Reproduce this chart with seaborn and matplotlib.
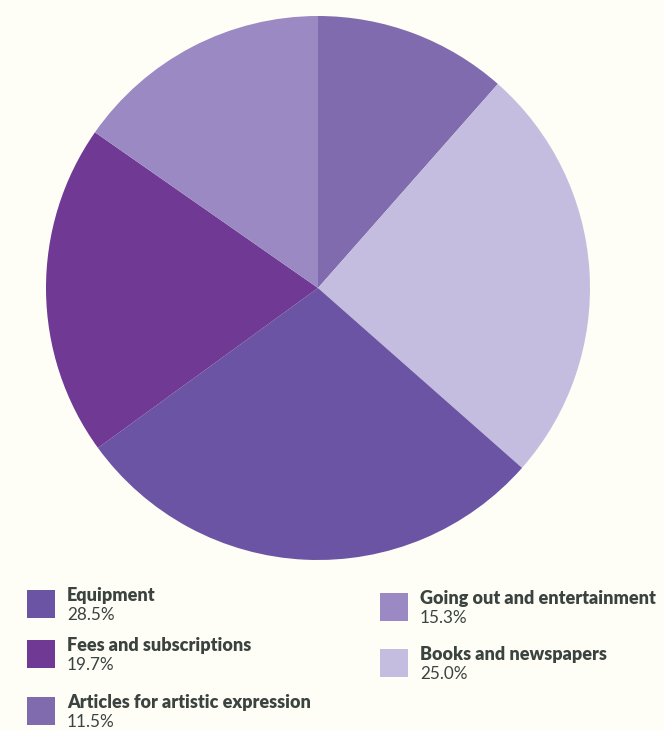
import matplotlib
matplotlib.use("Agg")
import matplotlib.pyplot as plt
from matplotlib.patches import Rectangle
import seaborn as sns

# pie order (clockwise from 12 o'clock)
categories = ["Articles for artistic expression", "Books and newspapers",
              "Equipment", "Fees and subscriptions", "Going out and entertainment"]
shares = [11.5, 25.0, 28.5, 19.7, 15.3]
colors = ["#806bae", "#c5bddf", "#6b54a3", "#6f3994", "#9a89c2"]

# legend order, as shown below the pie
legend_left = ["Equipment", "Fees and subscriptions", "Articles for artistic expression"]
legend_right = ["Going out and entertainment", "Books and newspapers"]

bg = "#fefef6"
text_col = "#3b4340"

sns.set_style("white")
plt.rcParams["font.family"] = ["Lato", "DejaVu Sans"]

W, H = 664, 730
fig = plt.figure(figsize=(W / 100, H / 100), dpi=100, facecolor=bg)

# pie: centre (318, 288) px, radius 272 px
ax = fig.add_axes([(318 - 272) / W, (H - 560) / H, 544 / W, 544 / H])
ax.set_facecolor(bg)
ax.pie(shares, colors=colors, startangle=90, counterclock=False,
       wedgeprops=dict(linewidth=0))
ax.set_xlim(-1, 1)
ax.set_ylim(-1, 1)
ax.set_aspect("equal")
ax.axis("off")


def legend_item(name, x, y):
    i = categories.index(name)
    # swatch, x/y are the top-left in pixels
    fig.patches.append(Rectangle((x / W, 1 - (y + 28) / H), 28 / W, 28 / H,
                                 transform=fig.transFigure, color=colors[i],
                                 linewidth=0))
    fig.text((x + 40) / W, 1 - (y - 3) / H, name, ha="left", va="top",
             fontsize=13, fontweight="heavy", color=text_col)
    fig.text((x + 40) / W, 1 - (y + 17) / H, f"{shares[i]:.1f}%", ha="left", va="top",
             fontsize=12.3, color=text_col)


for name, y in zip(legend_left, [590, 640, 697]):
    legend_item(name, 27, y)
for name, y in zip(legend_right, [593, 649]):
    legend_item(name, 380, y)

fig.savefig("out.png", dpi=100, facecolor=bg)
